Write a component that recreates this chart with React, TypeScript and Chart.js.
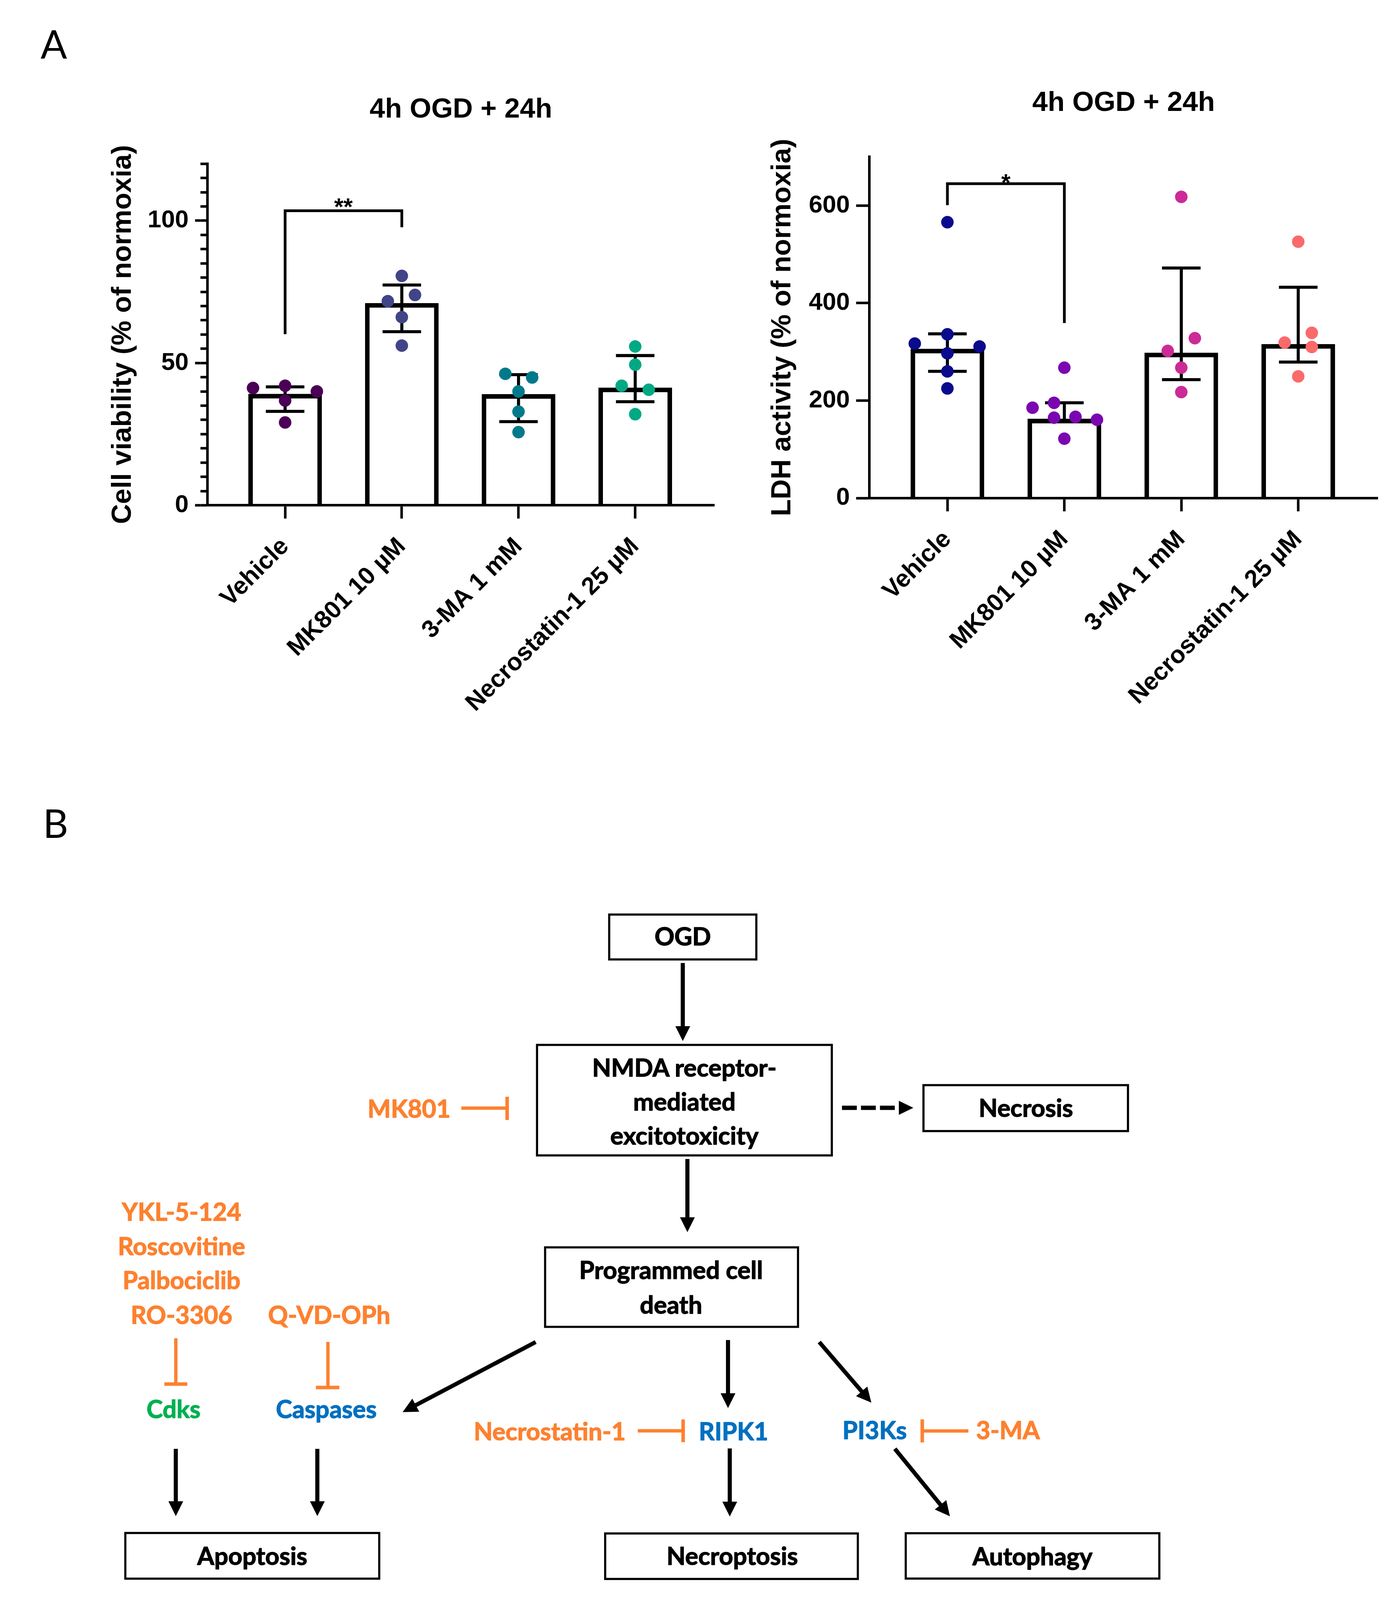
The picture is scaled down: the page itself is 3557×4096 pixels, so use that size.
import React, { useEffect, useRef } from 'react';
import { Chart, registerables } from 'chart.js';

Chart.register(...registerables);
Chart.defaults.color = '#000';

// ---------------- data ----------------
const categories = ['Vehicle', 'MK801 10 µM', '3-MA 1 mM', 'Necrostatin-1 25 µM'];

// Panel A, left: cell viability (% of normoxia)
const viabilityBars = [39.1, 71.0, 39.0, 41.3];
const viabilityErrHigh = [41.6, 77.4, 45.9, 52.6];
const viabilityErrLow = [33.0, 61.0, 29.4, 36.4];
const viabilityVehicle = [41.2, 42.0, 40.0, 36.8, 29.1];
const viabilityMK801 = [80.6, 73.9, 71.7, 66.1, 56.1];
const viability3MA = [46.2, 44.9, 40.0, 32.9, 25.7];
const viabilityNec1 = [55.8, 49.4, 42.0, 40.6, 32.0];
const viabilityJitter = [
  [-0.275, 0, 0.272, 0, 0],
  [0, 0.113, -0.12, 0, 0],
  [-0.113, 0.117, 0, 0, 0],
  [0, 0, -0.116, 0.116, 0],
];
const viabilityTicks = [0, 50, 100];
const viabilityMinorTicks = [0, 5, 10, 15, 20, 25, 30, 35, 40, 45, 50, 55, 60, 65, 70, 75, 80, 85, 90, 95, 100, 105, 110, 115, 120];
const viabilityBracketX = [0, 0, 1, 1];
const viabilityBracketY = [60.1, 103.5, 103.5, 97.7];
const viabilitySig = { text: '**', x: 0.5, y: 106.8 };

// Panel A, right: LDH activity (% of normoxia)
const ldhBars = [306, 162.5, 298, 315.7];
const ldhErrHigh = [337, 195.5, 472, 432.5];
const ldhErrLow = [260, 158, 243, 279];
const ldhVehicle = [566, 336, 317, 311, 297, 260, 225];
const ldhMK801 = [267.5, 185.4, 195.5, 165, 166.7, 160.8, 121.9];
const ldh3MA = [618, 328, 302, 267.5, 217.5];
const ldhNec1 = [526, 339, 319, 310, 249.7];
const ldhJitter = [
  [0, 0, -0.279, 0.275, 0, 0, 0],
  [0, -0.272, -0.088, -0.088, 0.095, 0.279, 0],
  [0, 0.116, -0.116, 0, 0],
  [0, 0.116, -0.116, 0.116, 0],
];
const ldhTicks = [0, 200, 400, 600];
const ldhBracketX = [0, 0, 1, 1];
const ldhBracketY = [601, 645, 645, 359];
const ldhSig = { text: '*', x: 0.5, y: 659 };

const viabilityColors = ['#4B0055', '#414487', '#007A8B', '#00A984'];
const ldhColors = ['#0A0A8C', '#7A06B0', '#CC2A96', '#FA6A6A'];

// ---------------- chart helpers ----------------
const FONT = "'Liberation Sans', Arial, Helvetica, sans-serif";
const X_MIN = -0.667;
const X_MAX = 3.68;
const CAP_HALF = 0.165;

function errorBarPoints(hi: number[], lo: number[]) {
  const pts: { x: number; y: number | null }[] = [];
  hi.forEach((h, i) => {
    const l = lo[i];
    pts.push({ x: i, y: l }, { x: i, y: h }, { x: i, y: null });
    pts.push({ x: i - CAP_HALF, y: h }, { x: i + CAP_HALF, y: h }, { x: i, y: null });
    pts.push({ x: i - CAP_HALF, y: l }, { x: i + CAP_HALF, y: l }, { x: i, y: null });
  });
  return pts;
}

const sigPlugin = {
  id: 'sigLabel',
  afterDatasetsDraw(chart: any, _args: any, opts: any) {
    if (!opts || !opts.text) return;
    const { ctx, scales } = chart;
    const x = scales.x.getPixelForValue(opts.x);
    const y = scales.y.getPixelForValue(opts.y);
    ctx.save();
    ctx.font = `bold ${opts.size}px ${FONT}`;
    ctx.fillStyle = '#000';
    ctx.textAlign = 'center';
    ctx.textBaseline = 'alphabetic';
    ctx.fillText(opts.text, x, y + opts.size * 0.57);
    ctx.restore();
  },
};

interface Spec {
  bars: number[];
  hi: number[];
  lo: number[];
  groups: number[][];
  jitter: number[][];
  colors: string[];
  yMax: number;
  ticks: number[];
  minorTicks?: number[];
  yTitle: string;
  bracketX: number[];
  bracketY: number[];
  sig: { text: string; x: number; y: number };
  yWidth: number;
  minorWidth: number;
  xHeight: number;
  padRight: number;
  titlePad: { top: number; bottom: number };
  yTitlePad: number;
  tickPad: number;
  majorTickLen: number;
}

function buildConfig(s: Spec): any {
  const tickFont = { family: FONT, weight: 'bold', size: 63 };
  const datasets: any[] = [
    {
      type: 'bar',
      data: s.bars.map((v, i) => ({ x: i, y: v })),
      backgroundColor: 'rgba(0,0,0,0)',
      borderColor: '#000',
      borderWidth: 11,
      borderSkipped: 'start',
      barThickness: 188,
      order: 3,
    },
    {
      type: 'line',
      data: errorBarPoints(s.hi, s.lo),
      borderColor: '#000',
      borderWidth: 7.8,
      pointRadius: 0,
      spanGaps: false,
      borderCapStyle: 'butt',
      clip: false,
      order: 2,
    },
    {
      type: 'line',
      data: s.bracketX.map((x, k) => ({ x, y: s.bracketY[k] })),
      borderColor: '#000',
      borderWidth: 7,
      pointRadius: 0,
      borderJoinStyle: 'miter',
      clip: false,
      order: 2,
    },
    ...s.groups.map((g, i) => ({
      type: 'scatter',
      data: g.map((v, j) => ({ x: i + s.jitter[i][j], y: v })),
      backgroundColor: s.colors[i],
      borderWidth: 0,
      pointRadius: 16,
      pointHoverRadius: 16,
      clip: false,
      order: 1,
    })),
  ];

  const scales: any = {
    x: {
      type: 'linear',
      position: 'bottom',
      min: X_MIN,
      max: X_MAX,
      offset: false,
      afterBuildTicks: (sc: any) => {
        sc.ticks = categories.map((_, i) => ({ value: i }));
      },
      afterFit: (sc: any) => {
        sc.height = s.xHeight;
      },
      ticks: {
        autoSkip: false,
        minRotation: 45,
        maxRotation: 45,
        padding: 35,
        color: '#000',
        font: tickFont,
        callback: (_v: any, i: number) => categories[i],
      },
      grid: { display: true, offset: false, drawOnChartArea: false, drawTicks: true, tickLength: 34, tickWidth: 6.5, tickColor: '#000' },
      border: { display: true, color: '#000', width: 6.5 },
    },
  };

  const titleOpt = {
    display: true,
    text: s.yTitle,
    color: '#000',
    font: { family: FONT, weight: 'bold', size: 71 },
    padding: { top: s.yTitlePad, bottom: 0 },
  };

  if (s.minorTicks) {
    const minor = s.minorTicks;
    scales.y = {
      type: 'linear',
      position: 'left',
      min: 0,
      max: s.yMax,
      weight: 0,
      afterBuildTicks: (sc: any) => {
        sc.ticks = minor.map((v) => ({ value: v }));
      },
      afterFit: (sc: any) => {
        sc.width = s.minorWidth;
      },
      ticks: { display: false },
      grid: { display: true, drawOnChartArea: false, drawTicks: true, tickLength: s.minorWidth, tickWidth: 6.5, tickColor: '#000' },
      border: { display: true, color: '#000', width: 6.5 },
    };
    scales.yMajor = {
      type: 'linear',
      position: 'left',
      min: 0,
      max: s.yMax,
      weight: 1,
      afterBuildTicks: (sc: any) => {
        sc.ticks = s.ticks.map((v) => ({ value: v }));
      },
      afterFit: (sc: any) => {
        sc.width = s.yWidth;
      },
      ticks: { padding: s.tickPad, color: '#000', font: tickFont, callback: (v: any) => String(v) },
      grid: { display: true, drawOnChartArea: false, drawTicks: true, tickLength: s.majorTickLen, tickWidth: 6.5, tickColor: '#000' },
      border: { display: false },
      title: titleOpt,
    };
  } else {
    scales.y = {
      type: 'linear',
      position: 'left',
      min: 0,
      max: s.yMax,
      afterBuildTicks: (sc: any) => {
        sc.ticks = s.ticks.map((v) => ({ value: v }));
      },
      afterFit: (sc: any) => {
        sc.width = s.yWidth;
      },
      ticks: { padding: s.tickPad, color: '#000', font: tickFont, callback: (v: any) => String(v) },
      grid: { display: true, drawOnChartArea: false, drawTicks: true, tickLength: s.majorTickLen, tickWidth: 6.5, tickColor: '#000' },
      border: { display: true, color: '#000', width: 6.5 },
      title: titleOpt,
    };
  }

  return {
    type: 'bar',
    data: { datasets },
    options: {
      animation: false,
      responsive: false,
      devicePixelRatio: 1,
      layout: { padding: { top: 0, left: 0, right: s.padRight, bottom: 0 } },
      plugins: {
        legend: { display: false },
        tooltip: { enabled: false },
        title: {
          display: true,
          text: '4h OGD + 24h',
          color: '#000',
          fullSize: false,
          font: { family: FONT, weight: 'bold', size: 71 },
          padding: s.titlePad,
        },
        sigLabel: { text: s.sig.text, x: s.sig.x, y: s.sig.y, size: 61 },
      },
      scales,
    },
    plugins: [sigPlugin],
  };
}

function ChartPanel({ spec, left, top, width, height }: { spec: Spec; left: number; top: number; width: number; height: number }) {
  const ref = useRef<HTMLCanvasElement>(null);
  useEffect(() => {
    const chart = new Chart(ref.current as HTMLCanvasElement, buildConfig(spec));
    return () => chart.destroy();
  }, []);
  return <canvas ref={ref} width={width} height={height} style={{ position: 'absolute', left, top, width, height }} />;
}

const viabilitySpec: Spec = {
  bars: viabilityBars,
  hi: viabilityErrHigh,
  lo: viabilityErrLow,
  groups: [viabilityVehicle, viabilityMK801, viability3MA, viabilityNec1],
  jitter: viabilityJitter,
  colors: viabilityColors,
  yMax: 120,
  ticks: viabilityTicks,
  minorTicks: viabilityMinorTicks,
  yTitle: 'Cell viability (% of normoxia)',
  bracketX: viabilityBracketX,
  bracketY: viabilityBracketY,
  sig: viabilitySig,
  yWidth: 283.3,
  minorWidth: 17.5,
  xHeight: 606.5,
  padRight: 50.1,
  titlePad: { top: 38.9, bottom: 95.1 },
  yTitlePad: 43,
  tickPad: 16.5,
  majorTickLen: 13.8,
};

const ldhSpec: Spec = {
  bars: ldhBars,
  hi: ldhErrHigh,
  lo: ldhErrLow,
  groups: [ldhVehicle, ldhMK801, ldh3MA, ldhNec1],
  jitter: ldhJitter,
  colors: ldhColors,
  yMax: 700,
  ticks: ldhTicks,
  yTitle: 'LDH activity (% of normoxia)',
  bracketX: ldhBracketX,
  bracketY: ldhBracketY,
  sig: ldhSig,
  yWidth: 306.4,
  minorWidth: 0,
  xHeight: 624.9,
  padRight: 28.8,
  titlePad: { top: 41.9, bottom: 94.5 },
  yTitlePad: 41.7,
  tickPad: 16,
  majorTickLen: 34,
};

// ---------------- diagram (panel B) ----------------
const DFONT = "Lato, 'Open Sans', sans-serif";
const ORANGE = '#FD8130';
const GREEN = '#00B050';
const BLUE = '#0070C0';
const DSIZE = 63;

function Arrow({ x1, y1, x2, y2, w = 10.5, head = 38, headW = 38 }: any) {
  const dx = x2 - x1;
  const dy = y2 - y1;
  const len = Math.hypot(dx, dy);
  const ux = dx / len;
  const uy = dy / len;
  const bx = x2 - ux * head;
  const by = y2 - uy * head;
  const px = -uy;
  const py = ux;
  return (
    <g>
      <line x1={x1} y1={y1} x2={bx + ux * 3} y2={by + uy * 3} stroke="#000" strokeWidth={w} />
      <polygon
        points={`${x2},${y2} ${bx + (px * headW) / 2},${by + (py * headW) / 2} ${bx - (px * headW) / 2},${by - (py * headW) / 2}`}
        fill="#000"
      />
    </g>
  );
}

function Box({ x0, y0, x1, y1 }: any) {
  const sw = 5.5;
  return <rect x={x0 + sw / 2} y={y0 + sw / 2} width={x1 - x0 - sw} height={y1 - y0 - sw} fill="none" stroke="#000" strokeWidth={sw} />;
}

function T({ x, y, children, anchor = 'middle', color = '#000', size = DSIZE }: any) {
  return (
    <text
      x={x}
      y={y}
      textAnchor={anchor}
      fill={color}
      stroke={color}
      strokeWidth={1.6}
      strokeLinejoin="round"
      fontSize={size}
      fontWeight={700}
      fontFamily={DFONT}
    >
      {children}
    </text>
  );
}

function Diagram() {
  const iw = 9;
  return (
    <svg width={3557} height={4096} style={{ position: 'absolute', left: 0, top: 0 }}>
      <text x={104} y={150} fontSize={100} fontWeight={400} fontFamily={DFONT} fill="#000">A</text>
      <text x={110} y={2145} fontSize={100} fontWeight={400} fontFamily={DFONT} fill="#000">B</text>

      {/* boxes */}
      <Box x0={1557.3} y0={2338.5} x1={1939.6} y1={2458.9} />
      <T x={1748.5} y={2420.3}>OGD</T>

      <Box x0={1372.5} y0={2672.2} x1={2132.9} y1={2960.6} />
      <T x={1752.6} y={2755.7}>NMDA receptor-</T>
      <T x={1752.6} y={2842.8}>mediated</T>
      <T x={1752.6} y={2929.9}>excitotoxicity</T>

      <Box x0={2362.1} y0={2775.2} x1={2891.3} y1={2898.3} />
      <T x={2627.2} y={2858.7}>Necrosis</T>

      <Box x0={1393.2} y0={3190.5} x1={2046.3} y1={3399.5} />
      <T x={1718.4} y={3274.3}>Programmed cell</T>
      <T x={1718.4} y={3362.8}>death</T>

      <Box x0={318.2} y0={3921.7} x1={973.9} y1={4044.1} />
      <T x={646} y={4006}>Apoptosis</T>

      <Box x0={1547} y0={3922.9} x1={2199.5} y1={4044.9} />
      <T x={1875.2} y={4006.2}>Necroptosis</T>

      <Box x0={2316.7} y0={3922.3} x1={2971.6} y1={4043.9} />
      <T x={2644} y={4007}>Autophagy</T>

      {/* black arrows */}
      <Arrow x1={1748.5} y1={2465.2} x2={1748.5} y2={2664.9} />
      <Arrow x1={1760.3} y1={2967} x2={1760.3} y2={3154.3} />
      <Arrow x1={1371.8} y1={3435.6} x2={1031.1} y2={3615} />
      <Arrow x1={1864.3} y1={3430.5} x2={1864.3} y2={3604.7} />
      <Arrow x1={2097.9} y1={3435.6} x2={2231.4} y2={3590.7} />
      <Arrow x1={1868.8} y1={3708} x2={1868.8} y2={3882.3} />
      <Arrow x1={2291.5} y1={3708.9} x2={2432.6} y2={3881.7} />
      <Arrow x1={450.2} y1={3709} x2={450.2} y2={3881.3} />
      <Arrow x1={812.6} y1={3709} x2={812.6} y2={3881.3} />

      {/* dashed arrow to necrosis */}
      <line x1={2156.2} y1={2835.9} x2={2291.4} y2={2835.9} stroke="#000" strokeWidth={11} strokeDasharray="38 10.6" />
      <polygon points="2338.9,2835.9 2301.8,2817.9 2301.8,2853.9" fill="#000" />

      {/* inhibitors */}
      <line x1={1181.3} y1={2836.8} x2={1296} y2={2836.8} stroke={ORANGE} strokeWidth={8.6} />
      <line x1={1298.7} y1={2807.6} x2={1298.7} y2={2867.2} stroke={ORANGE} strokeWidth={iw} />
      <T x={1153.7} y={2861} anchor="end" color={ORANGE}>MK801</T>

      <line x1={1633.2} y1={3662.9} x2={1747} y2={3662.9} stroke={ORANGE} strokeWidth={8.6} />
      <line x1={1749.4} y1={3633.8} x2={1749.4} y2={3691.9} stroke={ORANGE} strokeWidth={iw} />
      <T x={1602.3} y={3686.7} anchor="end" color={ORANGE}>Necrostatin-1</T>
      <T x={1789.4} y={3686.7} anchor="start" color={BLUE}>RIPK1</T>

      <line x1={2361.8} y1={3633.6} x2={2361.8} y2={3692.7} stroke={ORANGE} strokeWidth={iw} />
      <line x1={2364} y1={3663.2} x2={2480} y2={3663.2} stroke={ORANGE} strokeWidth={8.6} />
      <T x={2322.3} y={3683.8} anchor="end" color={BLUE}>PI3Ks</T>
      <T x={2499.5} y={3683.8} anchor="start" color={ORANGE}>3-MA</T>

      <T x={464.9} y={3125.1} color={ORANGE}>YKL-5-124</T>
      <T x={464.9} y={3213.2} color={ORANGE}>Roscovitine</T>
      <T x={464.9} y={3300.4} color={ORANGE}>Palbociclib</T>
      <T x={464.9} y={3389.2} color={ORANGE}>RO-3306</T>
      <T x={843} y={3389.2} color={ORANGE}>Q-VD-OPh</T>

      <line x1={450.2} y1={3425.9} x2={450.2} y2={3540} stroke={ORANGE} strokeWidth={8.6} />
      <line x1={420.9} y1={3543.2} x2={479.6} y2={3543.2} stroke={ORANGE} strokeWidth={iw} />
      <line x1={839.7} y1={3435.3} x2={839.7} y2={3549} stroke={ORANGE} strokeWidth={8.6} />
      <line x1={808.9} y1={3552} x2={869} y2={3552} stroke={ORANGE} strokeWidth={iw} />

      <T x={444.4} y={3629.8} color={GREEN}>Cdks</T>
      <T x={835.6} y={3629.8} color={BLUE}>Caspases</T>
    </svg>
  );
}

export default function App() {
  return (
    <div style={{ position: 'absolute', left: 0, top: 0, width: 3557, height: 4096, background: '#fff', overflow: 'hidden' }}>
      <Diagram />
      <ChartPanel spec={viabilitySpec} left={230} top={200} width={1650} height={1700} />
      <ChartPanel spec={ldhSpec} left={1920} top={180} width={1637} height={1720} />
    </div>
  );
}
